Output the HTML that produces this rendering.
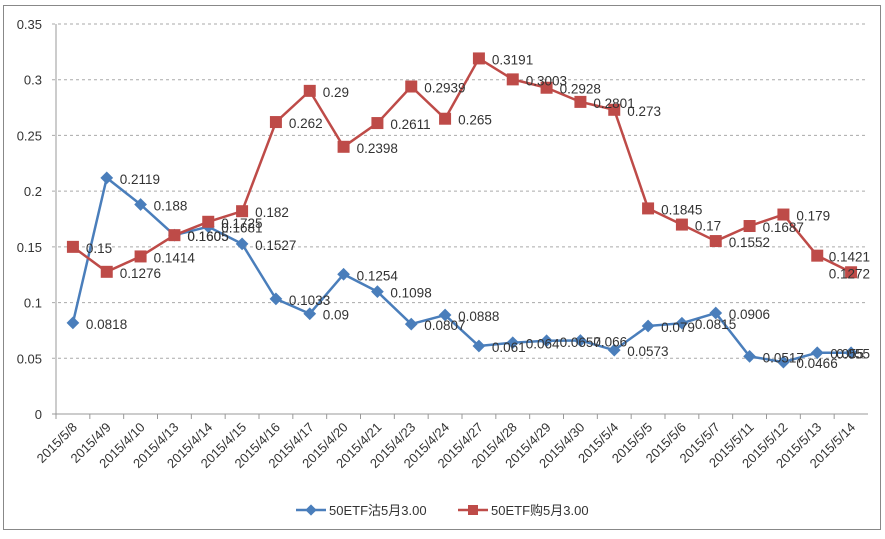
<!DOCTYPE html>
<html><head><meta charset="utf-8"><style>
body{margin:0;background:#fff;}
svg text{font-family:"Liberation Sans","Noto Sans CJK SC",sans-serif;fill:#333;}
</style></head><body>
<svg id="chart" width="885" height="534" xmlns="http://www.w3.org/2000/svg">
<rect x="3.5" y="5.5" width="877" height="524" fill="#fff" stroke="#888" stroke-width="1"/>
<g id="grid"></g><g id="axes"></g><g id="series"></g><g id="labels"></g>
<g>
<g>
<line x1="296" y1="510" x2="326" y2="510" stroke="#4a7ebb" stroke-width="2.5"/>
<rect x="307" y="506" width="8" height="8" fill="#4a7ebb" transform="rotate(45 311 510)"/>
<text x="329" y="515" font-size="13">50ETF沽5月3.00</text></g>
<g>
<line x1="458" y1="510" x2="488" y2="510" stroke="#be4b48" stroke-width="2.5"/>
<rect x="468" y="505" width="10" height="10" fill="#be4b48"/>
<text x="491" y="515" font-size="13">50ETF购5月3.00</text></g>
</g>
</svg>
<script>
const categories=["2015/5/8","2015/4/9","2015/4/10","2015/4/13","2015/4/14","2015/4/15","2015/4/16","2015/4/17","2015/4/20","2015/4/21","2015/4/23","2015/4/24","2015/4/27","2015/4/28","2015/4/29","2015/4/30","2015/5/4","2015/5/5","2015/5/6","2015/5/7","2015/5/11","2015/5/12","2015/5/13","2015/5/14"];
const putValues=[0.0818,0.2119,0.188,0.1605,0.1681,0.1527,0.1033,0.09,0.1254,0.1098,0.0807,0.0888,0.061,0.064,0.0657,0.066,0.0573,0.079,0.0815,0.0906,0.0517,0.0466,0.055,0.055];
const callValues=[0.15,0.1276,0.1414,0.1605,0.1725,0.182,0.262,0.29,0.2398,0.2611,0.2939,0.265,0.3191,0.3003,0.2928,0.2801,0.273,0.1845,0.17,0.1552,0.1687,0.179,0.1421,0.1272];
const yTicks=[0,0.05,0.1,0.15,0.2,0.25,0.3,0.35];
const yTickLabels=["0","0.05","0.1","0.15","0.2","0.25","0.3","0.35"];

const NS="http://www.w3.org/2000/svg";
const X0=56,X1=868,Y0=414,YT=24,YMAX=0.35;
const step=(X1-X0)/categories.length;
const xs=i=>X0+step*(i+0.5);
const ys=v=>Y0-(v/YMAX)*(Y0-YT);
function mk(tag,attrs,parent){const e=document.createElementNS(NS,tag);for(const k in attrs)e.setAttribute(k,attrs[k]);parent.appendChild(e);return e;}
const grid=document.getElementById('grid'),axes=document.getElementById('axes'),series=document.getElementById('series'),labels=document.getElementById('labels');
yTicks.forEach((t,i)=>{
  if(t>0){const g=mk('line',{x1:X0-4,x2:X1,y1:ys(t),y2:ys(t),stroke:'#aaa','stroke-dasharray':'3,3'},grid);
  
  }
  const tx=mk('text',{x:42,y:ys(t)+5,'text-anchor':'end','font-size':'13'},axes);
  tx.textContent=yTickLabels[i];
  
  
});
const ya=mk('line',{x1:X0,x2:X0,y1:YT,y2:Y0,stroke:'#999'},axes);


const xa=mk('line',{x1:X0-4,x2:X1,y1:Y0,y2:Y0,stroke:'#999'},axes);


categories.forEach((c,i)=>{
  const tk=mk('line',{x1:X0+step*i,x2:X0+step*i,y1:Y0,y2:Y0+5,stroke:'#999'},axes);
  
  
  const x=xs(i)+5,y=Y0+14;
  const t=mk('text',{x:x,y:y,'text-anchor':'end','font-size':'13',transform:`rotate(-45 ${x} ${y})`},axes);
  t.textContent=c;
  
  
});
function draw(vals,color,shape,name){
  const p=mk('polyline',{points:vals.map((v,i)=>xs(i)+','+ys(v)).join(' '),fill:'none',stroke:color,'stroke-width':'2.5','stroke-linejoin':'round'},series);
  
  
  vals.forEach((v,i)=>{
    let m;
    if(shape==='d'){m=mk('rect',{x:xs(i)-4.5,y:ys(v)-4.5,width:9,height:9,fill:color,transform:`rotate(45 ${xs(i)} ${ys(v)})`},series);}
    else{m=mk('rect',{x:xs(i)-6,y:ys(v)-6,width:12,height:12,fill:color},series);}
    
    
    const t=mk('text',{x:xs(i)+13,y:ys(v)+6,'font-size':'13.5'},labels);
    t.textContent=String(v);
    
    
    const w=t.getComputedTextLength();
    if(xs(i)+13+w>870){t.setAttribute('x',870-w);}
  });
}
draw(putValues,'#4a7ebb','d','put-series');
draw(callValues,'#be4b48','s','call-series');
</script>
</body></html>
